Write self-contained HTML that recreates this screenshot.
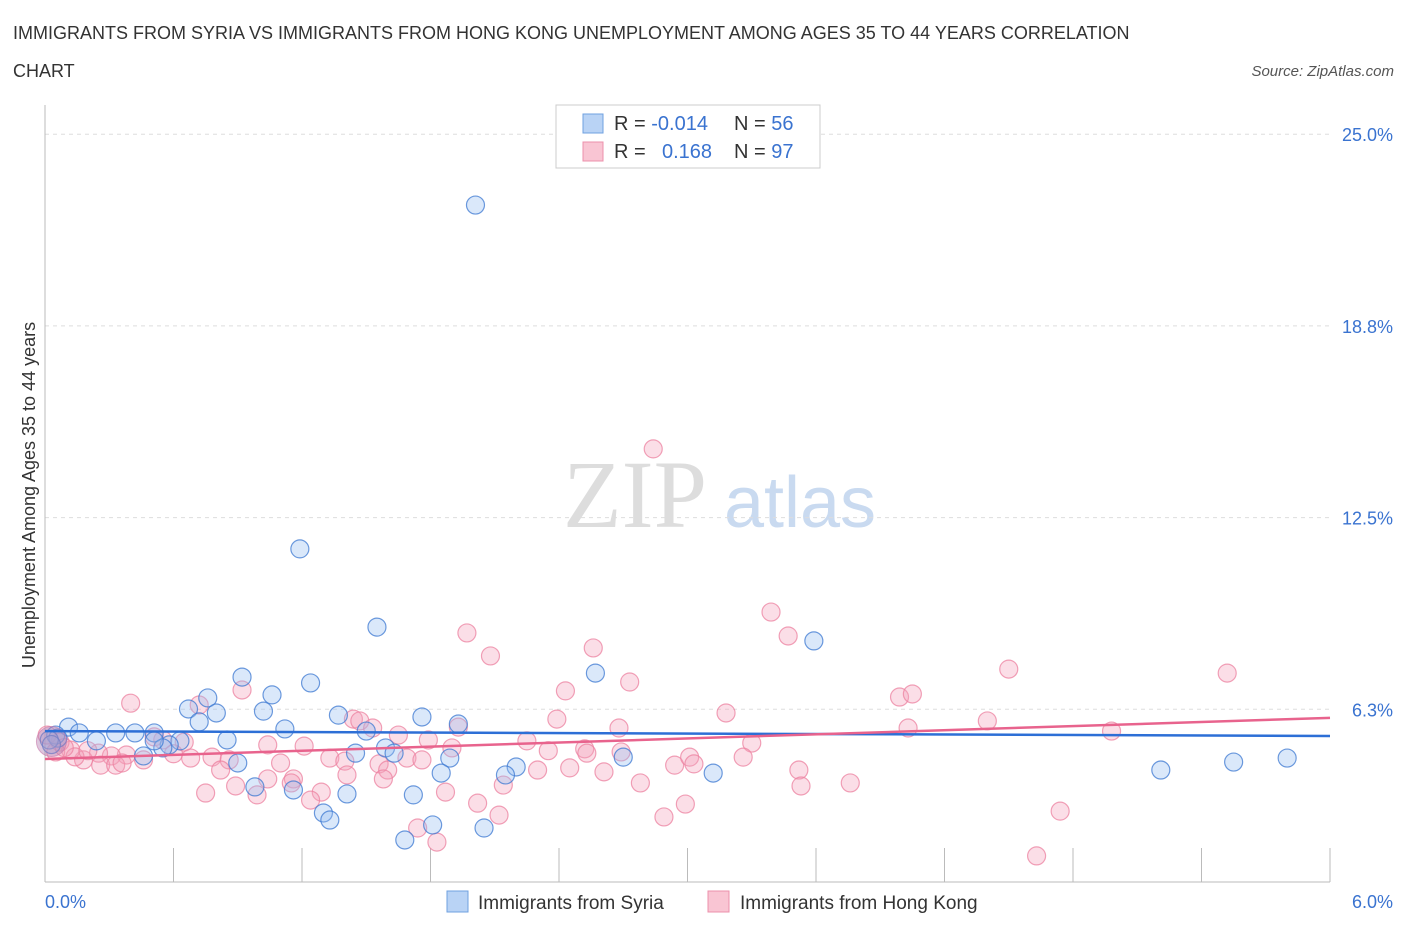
<!DOCTYPE html>
<html><head><meta charset="utf-8"><style>
body{margin:0;background:#fff;font-family:"Liberation Sans",sans-serif;}
svg{display:block}
</style></head><body>
<svg width="1406" height="930">
<text x="13" y="39" font-size="18" fill="#333">IMMIGRANTS FROM SYRIA VS IMMIGRANTS FROM HONG KONG UNEMPLOYMENT AMONG AGES 35 TO 44 YEARS CORRELATION</text>
<text x="13" y="77" font-size="18" fill="#333">CHART</text>
<text x="1394" y="76" font-size="15" fill="#555" font-style="italic" text-anchor="end">Source: ZipAtlas.com</text>
<text x="35" y="495" font-size="18" fill="#333" text-anchor="middle" transform="rotate(-90 35 495)">Unemployment Among Ages 35 to 44 years</text>
<text x="635" y="527" font-size="96" fill="#ddd" font-family="Liberation Serif,serif" text-anchor="middle">ZIP</text>
<text x="800" y="527" font-size="72" fill="#c9daf0" text-anchor="middle">atlas</text>
<g id="grid"></g><g id="axes"></g><g id="pts"></g><g id="trends"></g>
<g>
<rect x="556" y="105" width="264" height="63" fill="#fff" stroke="#ccc"/>
<rect x="583" y="114" width="20" height="19" fill="#b9d3f5" stroke="#6fa0e0"/>
<rect x="583" y="142" width="20" height="19" fill="#f9c5d3" stroke="#ec90ab"/>
<text x="614" y="130" font-size="20" fill="#333">R = <tspan fill="#3a73d0">-0.014</tspan></text>
<text x="734" y="130" font-size="20" fill="#333">N = <tspan fill="#3a73d0">56</tspan></text>
<text x="614" y="158" font-size="20" fill="#333">R = <tspan fill="#3a73d0" x="662">0.168</tspan></text>
<text x="734" y="158" font-size="20" fill="#333">N = <tspan fill="#3a73d0">97</tspan></text>
</g>
<g>
<rect x="447" y="891" width="21" height="21" fill="#b9d3f5" stroke="#6fa0e0"/>
<text x="478" y="909" font-size="19" fill="#333">Immigrants from Syria</text>
<rect x="708" y="891" width="21" height="21" fill="#f9c5d3" stroke="#ec90ab"/>
<text x="740" y="909" font-size="19" fill="#333">Immigrants from Hong Kong</text>
</g>
</svg>
<script>
const yTicks=[25.0,18.75,12.5,6.25];
const yTickLabels=["25.0%","18.8%","12.5%","6.3%"];
const xTickCount=10;
const xTickLabels=["0.0%","6.0%"];
const syriaX=[2.01,1.19,1.55,3.59,2.57,0.92,1.24,0.76,1.06,0.67,0.80,1.02,0.72,1.76,1.37,1.93,1.12,0.11,0.33,0.42,0.51,0.16,0.05,0.24,0.85,0.63,0.58,0.46,1.45,1.59,1.63,1.50,0.90,1.89,2.70,2.20,2.15,1.85,3.12,0.98,1.16,1.41,1.72,1.30,1.33,1.81,1.68,2.05,5.21,5.55,5.80,0.06,0.02,0.55,0.51,0.03];
const syriaY=[22.69,11.48,8.93,8.48,7.43,7.30,7.11,6.62,6.72,6.26,6.13,6.19,5.84,6.00,6.06,5.77,5.61,5.67,5.48,5.48,5.48,5.48,5.41,5.22,5.25,5.22,5.09,4.73,4.82,4.99,4.82,5.54,4.50,4.66,4.69,4.37,4.11,4.17,4.17,3.72,3.62,3.49,3.46,2.87,2.64,2.48,1.99,2.38,4.27,4.53,4.66,5.31,5.25,4.99,5.22,5.1];
const hkX=[2.84,3.39,1.97,3.47,2.08,2.56,4.50,5.52,2.73,2.43,0.40,0.92,3.99,4.05,3.18,2.39,1.44,1.47,1.53,1.93,0.72,4.40,4.03,2.68,4.98,1.65,1.79,2.25,3.30,2.52,2.53,2.69,1.90,0.65,0.51,0.55,1.04,1.21,1.33,1.40,0.78,0.68,0.86,0.38,0.31,0.25,0.18,0.12,0.07,0.01,0.46,0.26,1.69,1.76,2.94,3.01,3.03,3.26,2.30,2.45,2.61,1.56,1.60,1.41,1.04,1.58,1.16,0.82,0.89,0.75,0.99,1.15,1.29,1.24,1.87,2.14,2.78,3.52,3.53,3.76,2.02,2.12,2.99,2.89,1.74,1.83,4.74,4.63,0.33,0.14,0.05,0.20,0.60,1.10,2.35,0.36,0.09];
const hkY=[14.74,9.42,8.74,8.64,7.99,8.25,7.56,7.43,7.14,6.85,6.45,6.88,6.65,6.75,6.13,5.93,5.93,5.87,5.64,5.67,6.39,5.87,5.64,5.64,5.54,5.41,5.25,5.22,5.15,4.96,4.82,4.86,4.99,5.18,5.35,5.25,5.09,5.05,4.66,4.56,4.69,4.66,4.60,4.76,4.73,4.82,4.60,4.92,5.18,5.41,4.60,4.43,4.66,4.60,4.43,4.69,4.47,4.69,4.27,4.34,4.21,4.47,4.27,4.11,3.98,3.98,3.98,4.27,3.75,3.52,3.46,3.85,3.55,3.29,3.55,3.78,3.85,4.27,3.75,3.85,3.19,2.80,3.16,2.74,2.38,1.92,2.93,1.47,4.43,4.70,4.86,4.9,4.8,4.5,4.9,4.5,5.0];
const trendSyria=[5.54,5.38];
const trendHK=[4.63,5.97];
const X0=45,X1=1330,Y0=901,PXY=191.7/6.25;
const sx=v=>X0+(v/6)*(X1-X0), sy=v=>Y0-v*PXY;
const NS="http://www.w3.org/2000/svg";
function mk(tag,attrs,parent){const e=document.createElementNS(NS,tag);for(const k in attrs)e.setAttribute(k,attrs[k]);document.getElementById(parent).appendChild(e);return e;}
yTicks.forEach((t,i)=>{
 const g=mk('line',{x1:45,x2:1330,y1:sy(t),y2:sy(t),stroke:'#ddd','stroke-dasharray':'4,4'},'grid');
 
 
 const l=mk('text',{x:1393,y:sy(t)+7,'font-size':18,fill:'#3a73d0','text-anchor':'end'},'grid');
 l.textContent=yTickLabels[i];
 
 
});
const ya=mk('line',{x1:45,x2:45,y1:105,y2:882,stroke:'#bbb'},'axes');


const xa=mk('line',{x1:45,x2:1330,y1:882,y2:882,stroke:'#bbb'},'axes');


for(let i=1;i<=xTickCount;i++){
 const x=sx(i*6/xTickCount);
 const t=mk('line',{x1:x,x2:x,y1:848,y2:882,stroke:'#bbb'},'axes');
 
 
}
const xl0=mk('text',{x:45,y:908,'font-size':18,fill:'#3a73d0'},'axes');xl0.textContent=xTickLabels[0];


const xl1=mk('text',{x:1393,y:908,'font-size':18,fill:'#3a73d0','text-anchor':'end'},'axes');xl1.textContent=xTickLabels[1];


hkX.forEach((v,i)=>{
 const c=mk('circle',{cx:sx(v),cy:sy(hkY[i]),r:9,fill:'rgba(244,160,185,0.35)',stroke:'rgba(236,130,160,0.75)','stroke-width':1.2},'pts');
 
 
});
syriaX.forEach((v,i)=>{
 const c=mk('circle',{cx:sx(v),cy:sy(syriaY[i]),r:9,fill:'rgba(150,190,240,0.35)',stroke:'rgba(60,120,210,0.75)','stroke-width':1.2},'pts');
 
 
});
const big=mk('circle',{cx:sx(0.03),cy:sy(5.2),r:15,fill:'rgba(180,130,180,0.45)',stroke:'rgba(200,120,170,0.6)'},'pts');


const tb=mk('line',{x1:sx(0),x2:sx(6),y1:sy(trendSyria[0]),y2:sy(trendSyria[1]),stroke:'#2d6fd6','stroke-width':2.5},'trends');


const tp=mk('line',{x1:sx(0),x2:sx(6),y1:sy(trendHK[0]),y2:sy(trendHK[1]),stroke:'#e8638d','stroke-width':2.5},'trends');


</script>
</body></html>
